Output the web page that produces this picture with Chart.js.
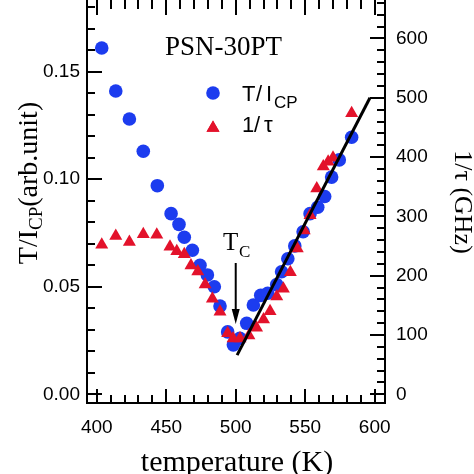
<!DOCTYPE html>
<html><head><meta charset="utf-8">
<script src="https://cdn.jsdelivr.net/npm/chart.js@4.4.0/dist/chart.umd.min.js"></script>
<style>html,body{margin:0;padding:0;background:#fff}#wrap{width:474px;height:474px;position:relative}</style>
</head><body><div id="wrap"><canvas id="c" width="474" height="474"></canvas></div>
<script>
// ---- data ----
const tempBlue  = [403.6,413.7,423.5,433.5,443.6,453.5,459.2,463.0,468.8,474.3,479.6,484.6,488.7,494.2,498.3,503.0,507.9,512.7,518.0,523.0,529.5,533.0,537.5,542.5,548.5,553.5,559.0,564.0,569.0,574.5,583.4];
const ratioBlue = [0.161,0.141,0.128,0.113,0.097,0.084,0.079,0.073,0.067,0.060,0.0555,0.050,0.041,0.029,0.023,0.026,0.033,0.0415,0.046,0.047,0.051,0.057,0.063,0.069,0.0756,0.084,0.087,0.092,0.101,0.109,0.1195];
const tempRed   = [403.6,413.7,423.5,433.5,443.2,452.7,457.6,463.0,467.8,472.7,478.0,483.2,488.7,494.2,498.1,503.1,509.5,515.0,520.0,524.7,529.5,534.3,539.3,544.3,549.3,553.5,558.3,563.0,566.5,570.0,583.4];
const rateRed   = [252,267,257,270,269,249,241,236,217,207,185,161,139,103,94,94,99,112,126,140,165,178,206,246,276,302,347,384,392,399,474];
const fitTemp   = [501,596.6];
const fitRate   = [66,500];

const xTicks  = [400,450,500,550,600];
const xTickLabels = ['400','450','500','550','600'];
const yTicks  = [0,0.05,0.10,0.15];
const yTickLabels = ['0.00','0.05','0.10','0.15'];
const y2Ticks = [0,100,200,300,400,500,600];
const y2TickLabels = ['0','100','200','300','400','500','600'];
const xMinorStep = 10, yMinorStep = 0.01, y2MinorStep = 20;

const BLUE = '#1c3cef', RED = '#e3122b';
const SANS = '"Liberation Sans", Arial, sans-serif';
const SERIF = '"Liberation Serif", "Times New Roman", serif';

const pts = (xs, ys) => xs.map((x, i) => ({x, y: ys[i]}));
function fixTicks(list) { return s => { s.ticks = list.map(v => ({value: v})); }; }
function labelFrom(ticks, labels) {
  return v => { const i = ticks.findIndex(t => Math.abs(t - v) < 1e-9); return i >= 0 ? labels[i] : ''; };
}
function fitSize(prop, val) {
  return s => { s[prop] = val; s.paddingTop = 0; s.paddingBottom = 0; s.paddingLeft = 0; s.paddingRight = 0; };
}

const decor = {
  id: 'decor',
  afterDatasetsDraw(chart) {
    const {ctx, chartArea: a, scales} = chart;
    const X = scales.x, Y = scales.y, Y2 = scales.y2;
    ctx.save();
    ctx.strokeStyle = '#000'; ctx.fillStyle = '#000'; ctx.lineWidth = 2; ctx.lineCap = 'butt';
    // frame (top edge lies just outside the picture)
    ctx.beginPath();
    ctx.moveTo(a.left, a.top - 2); ctx.lineTo(a.left, a.bottom); ctx.lineTo(a.right, a.bottom); ctx.lineTo(a.right, a.top - 2);
    ctx.stroke();
    const MAJ = 14, MIN = 8;
    ctx.beginPath();
    for (let v = Math.ceil(X.min / xMinorStep) * xMinorStep; v <= X.max; v += xMinorStep) {
      const isMaj = xTicks.some(t => Math.abs(t - v) < 1e-6);
      const L = isMaj ? MAJ : MIN, p = Math.round(X.getPixelForValue(v));
      ctx.moveTo(p, a.bottom); ctx.lineTo(p, a.bottom - L);
      ctx.moveTo(p, a.top); ctx.lineTo(p, a.top + L + 1);
    }
    for (let k = Math.ceil(Y.min / yMinorStep); k * yMinorStep <= Y.max + 1e-9; k++) {
      const v = k * yMinorStep;
      const isMaj = yTicks.some(t => Math.abs(t - v) < 1e-6);
      const L = isMaj ? MAJ + 1 : MIN, p = Math.round(Y.getPixelForValue(v));
      ctx.moveTo(a.left, p); ctx.lineTo(a.left + L, p);
    }
    for (let v = Math.ceil(Y2.min / y2MinorStep) * y2MinorStep; v <= Y2.max; v += y2MinorStep) {
      const isMaj = y2Ticks.some(t => Math.abs(t - v) < 1e-6);
      const L = isMaj ? MAJ + 1 : MIN, p = Math.round(Y2.getPixelForValue(v));
      ctx.moveTo(a.right, p); ctx.lineTo(a.right - L, p);
    }
    ctx.stroke();

    ctx.textAlign = 'left'; ctx.textBaseline = 'alphabetic';
    ctx.font = '27px ' + SERIF;
    ctx.fillText('PSN-30PT', 165, 55);

    // legend markers
    ctx.fillStyle = BLUE;
    ctx.beginPath(); ctx.arc(213, 93, 6.8, 0, Math.PI * 2); ctx.fill();
    ctx.fillStyle = RED;
    Chart.helpers.drawPoint(ctx, {pointStyle: 'triangle', radius: 7.5, borderWidth: 0}, 213, 128);
    ctx.fill();
    // legend texts
    ctx.fillStyle = '#000';
    ctx.font = '22px ' + SANS;
    ctx.fillText('T', 242, 101); ctx.fillText('/', 256, 101); ctx.fillText('I', 266, 101);
    ctx.font = '17px ' + SANS;
    ctx.fillText('CP', 274, 108);
    ctx.font = '22px ' + SANS;
    ctx.fillText('1', 242, 132); ctx.fillText('/', 254, 132); ctx.fillText('τ', 264, 132);

    // Tc annotation
    ctx.font = '25px ' + SERIF;
    ctx.fillText('T', 223, 250);
    ctx.font = '17px ' + SERIF;
    ctx.fillText('C', 239, 257);
    const ax = X.getPixelForValue(500);
    ctx.lineWidth = 2;
    ctx.beginPath(); ctx.moveTo(ax, 263); ctx.lineTo(ax, 312); ctx.stroke();
    ctx.beginPath(); ctx.moveTo(ax, 324); ctx.lineTo(ax - 4, 309); ctx.lineTo(ax + 4, 309); ctx.closePath(); ctx.fill();

    // bottom axis title
    ctx.textAlign = 'center';
    ctx.font = '30px ' + SERIF;
    ctx.fillText('temperature (K)', 237, 471);

    // left axis title (rotated)
    ctx.save();
    ctx.translate(37, 183); ctx.rotate(-Math.PI / 2);
    ctx.textAlign = 'left';
    const big = '28px ' + SERIF, small = '19px ' + SERIF;
    ctx.font = big; const w1 = ctx.measureText('T/I').width;
    ctx.font = small; const w2 = ctx.measureText('CP').width;
    ctx.font = big; const w3 = ctx.measureText('(arb.unit)').width;
    let sx = -(w1 + w2 + w3) / 2;
    ctx.font = big; ctx.fillText('T/I', sx, 0); sx += w1;
    ctx.font = small; ctx.fillText('CP', sx, 5); sx += w2;
    ctx.font = big; ctx.fillText('(arb.unit)', sx, 0);
    ctx.restore();

    // right axis title (rotated)
    ctx.save();
    ctx.translate(455, 202); ctx.rotate(Math.PI / 2);
    ctx.textAlign = 'center';
    ctx.font = '26px ' + SERIF;
    ctx.fillText('1/τ (GHz)', 0, 0);
    ctx.restore();

    ctx.restore();
  }
};

const tickFont = {family: SANS, size: 19};
const noGrid = {display: false, drawTicks: false};

new Chart(document.getElementById('c'), {
  type: 'scatter',
  data: {
    datasets: [
      {label: 'fit', data: pts(fitTemp, fitRate), yAxisID: 'y2', showLine: true, borderColor: '#000', borderWidth: 3, pointRadius: 0, order: 0},
      {label: '1/τ', data: pts(tempRed, rateRed), yAxisID: 'y2', pointStyle: 'triangle', pointRadius: 7.5, backgroundColor: RED, borderColor: RED, borderWidth: 0, order: 1},
      {label: 'T/ICP', data: pts(tempBlue, ratioBlue), yAxisID: 'y', pointStyle: 'circle', pointRadius: 6.8, backgroundColor: BLUE, borderColor: BLUE, borderWidth: 0, order: 2}
    ]
  },
  options: {
    responsive: false, animation: false, devicePixelRatio: 1,
    layout: {padding: {top: 0, left: 0, right: 0, bottom: 0}, autoPadding: false},
    plugins: {legend: {display: false}, tooltip: {enabled: false}},
    scales: {
      x: {type: 'linear', position: 'bottom', min: 393, max: 607.4,
          grid: noGrid, border: {display: false},
          afterBuildTicks: fixTicks(xTicks), afterFit: fitSize('height', 71),
          ticks: {padding: 13, font: tickFont, color: '#000', maxRotation: 0, callback: labelFrom(xTicks, xTickLabels)}},
      y: {type: 'linear', position: 'left', min: -0.00405, max: 0.18334,
          grid: noGrid, border: {display: false},
          afterBuildTicks: fixTicks(yTicks), afterFit: fitSize('width', 87),
          ticks: {padding: 7, font: tickFont, color: '#000', callback: labelFrom(yTicks, yTickLabels)}},
      y2: {type: 'linear', position: 'right', min: -14.7, max: 664.9,
          grid: noGrid, border: {display: false},
          afterBuildTicks: fixTicks(y2Ticks), afterFit: fitSize('width', 89),
          ticks: {padding: 11, font: tickFont, color: '#000', callback: labelFrom(y2Ticks, y2TickLabels)}}
    }
  },
  plugins: [decor]
});
</script>
</body></html>
